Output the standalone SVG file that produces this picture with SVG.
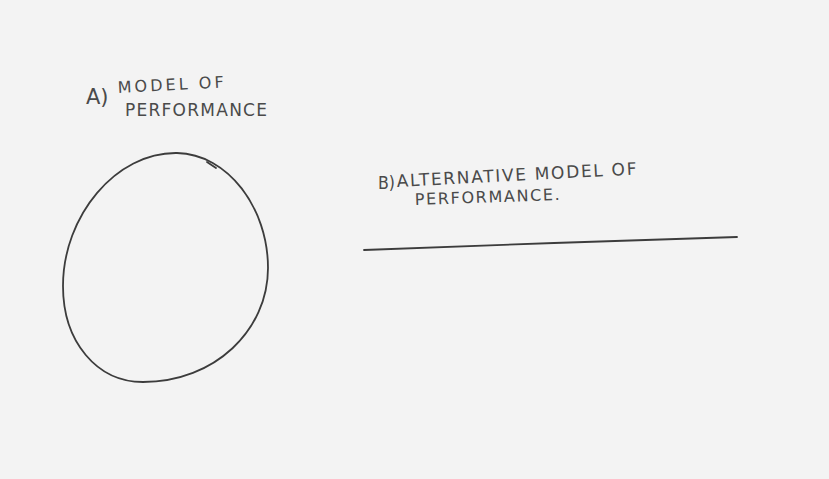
<svg xmlns="http://www.w3.org/2000/svg" width="829" height="479" viewBox="0 0 829 479">
<style>
.t{font-family:"DejaVu Sans","Liberation Sans",sans-serif;fill:#4a4a4a;font-size:16px}
.s{fill:none;stroke:#3c3c3c;stroke-width:1.8;stroke-linecap:round}
</style>
<rect x="0" y="0" width="829" height="479" fill="#f3f3f3"/>
<g id="labelA">
<text class="t" x="86" y="104" style="font-size:21px">A)</text>
<text class="t" x="118" y="93" textLength="106" lengthAdjust="spacing" transform="rotate(-3 118 93)">MODEL  OF</text>
<text class="t" x="125" y="116" style="font-size:17px" textLength="142" lengthAdjust="spacing">PERFORMANCE</text>
</g>
<g id="modelA">
<path class="s" d="M177,153 C228,154 268,208 268,268 C268,330 215,382 143,382 C97,382 63,342 63,286 C63,216 116,152 177,153 Z"/>
<path class="s" d="M207,162 L216,168"/>
</g>
<g id="labelB">
<text class="t" x="378" y="189" style="font-size:17px" textLength="17" lengthAdjust="spacingAndGlyphs">B)</text>
<text class="t" x="397" y="187" style="font-size:17px" textLength="240" lengthAdjust="spacing" transform="rotate(-3 397 187)">ALTERNATIVE MODEL OF</text>
<text class="t" x="415" y="205" style="font-size:16px" textLength="145" lengthAdjust="spacing" transform="rotate(-2 415 205)">PERFORMANCE.</text>
</g>
<g id="modelB">
<path class="s" d="M364,250 C480,246 620,240 737,237"/>
</g>
</svg>
